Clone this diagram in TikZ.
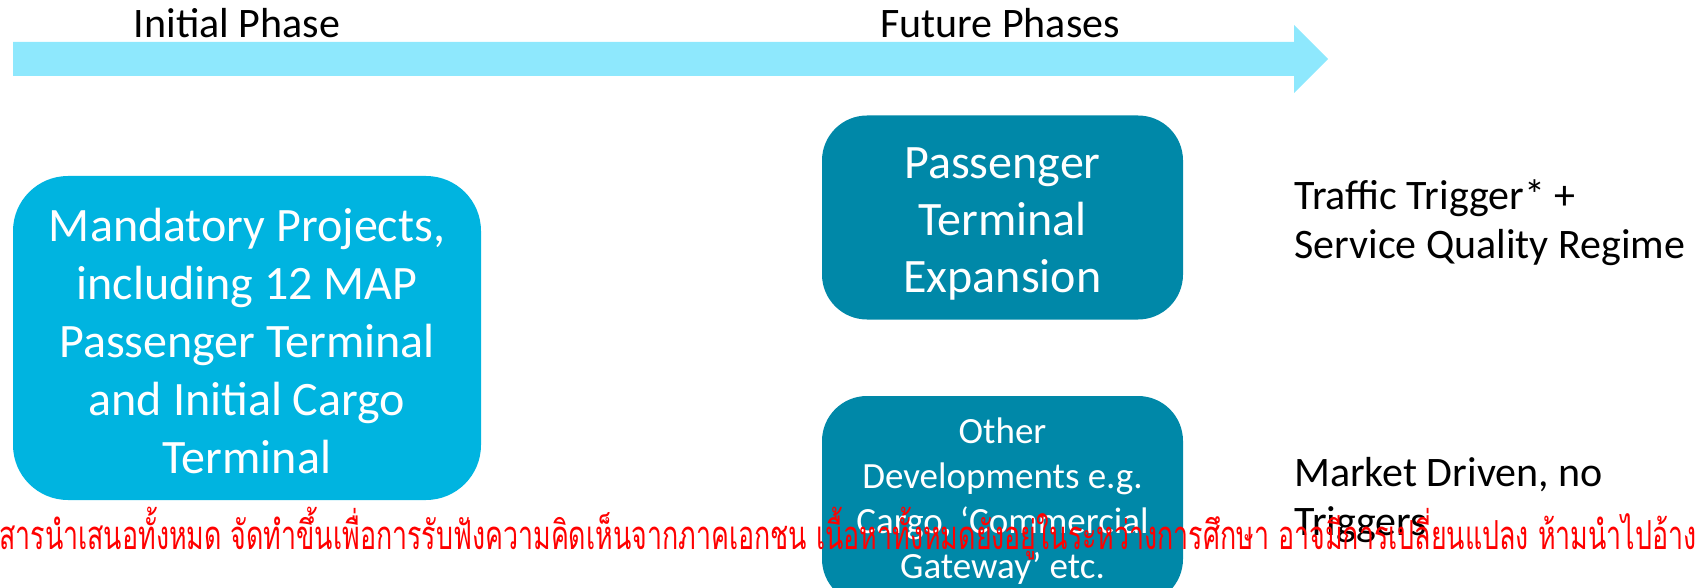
\documentclass[tikz,border=0pt]{standalone}
\usepackage{fontspec}
\setmainfont{Carlito}
\newfontfamily\thaifont[Script=Thai, FakeStretch=0.67]{Loma}
\definecolor{timeline}{HTML}{8EE8FD}
\definecolor{initialblue}{HTML}{00B4E0}
\definecolor{futureteal}{HTML}{0088A8}

\begin{document}
\begin{tikzpicture}[x=1pt, y=-1pt,
            phase label/.style = {font=\fontsize{42}{50}\selectfont, inner sep=0pt},
            box text/.style = {text=white, align=center, inner sep=0pt},
            initial box/.style = {fill=initialblue, rounded corners=55pt,
                minimum width=468pt, minimum height=324pt, inner sep=0pt},
            future box/.style = {fill=futureteal, rounded corners=45pt,
                minimum width=361pt, inner sep=0pt},
            trigger/.style = {align=left, anchor=west, inner sep=0pt,
                font=\fontsize{42}{49}\selectfont}]
\useasboundingbox (0,0) rectangle (1705,588);
\clip (0,0) rectangle (1705,588);

% timeline arrow
\coordinate (start) at (13,59);
\coordinate (tip) at (1328,59);
\fill[timeline] (start) ++(0,-17) -- ++(1281,0) -- ++(0,-17) -- (tip)
    -- ++(-34,34) -- ++(0,-17) -- ++(-1281,0) -- cycle;

\node[phase label, anchor=base] (initial) at (237,38) {Initial Phase};
\node[phase label, anchor=base] (future) at (1000,38) {Future Phases};

% boxes
\node[initial box] (mandatory) at (247,338) {};
\node[box text, font=\fontsize{48}{58}\selectfont] (mandatory text)
    at ([yshift=-3pt]mandatory.center)
    {Mandatory Projects,\\including 12 MAP\\Passenger Terminal\\and Initial Cargo\\Terminal};

\node[future box, minimum height=204pt] (expansion) at (1002.5,217.5) {};
\node[box text, font=\fontsize{48}{57}\selectfont] (expansion text)
    at ([yshift=-6pt]expansion.center) {Passenger\\Terminal\\Expansion};

\node[future box, minimum height=208pt] (other) at (1002.5,500) {};
\node[box text, font=\fontsize{37}{45}\selectfont] (other text)
    at ([yshift=-1pt]other.center) {Other\\Developments e.g.\\Cargo, ‘Commercial\\Gateway’ etc.};

% triggers
\node[trigger] (traffic) at (1294,223) {Traffic Trigger* +\\Service Quality Regime};
\node[trigger] (market) at (1294,500) {Market Driven, no\\Triggers};

% disclaimer
\node[anchor=base west, inner sep=0pt, text=red, font=\thaifont\fontsize{40}{46}\selectfont]
    (disclaimer) at (-1,549)
    {สารนำเสนอทั้งหมด จัดทำขึ้นเพื่อการรับฟังความคิดเห็นจากภาคเอกชน เนื้อหาทั้งหมดยังอยู่ในระหว่างการศึกษา อาจมีการเปลี่ยนแปลง ห้ามนำไปอ้าง};
\end{tikzpicture}
\end{document}
